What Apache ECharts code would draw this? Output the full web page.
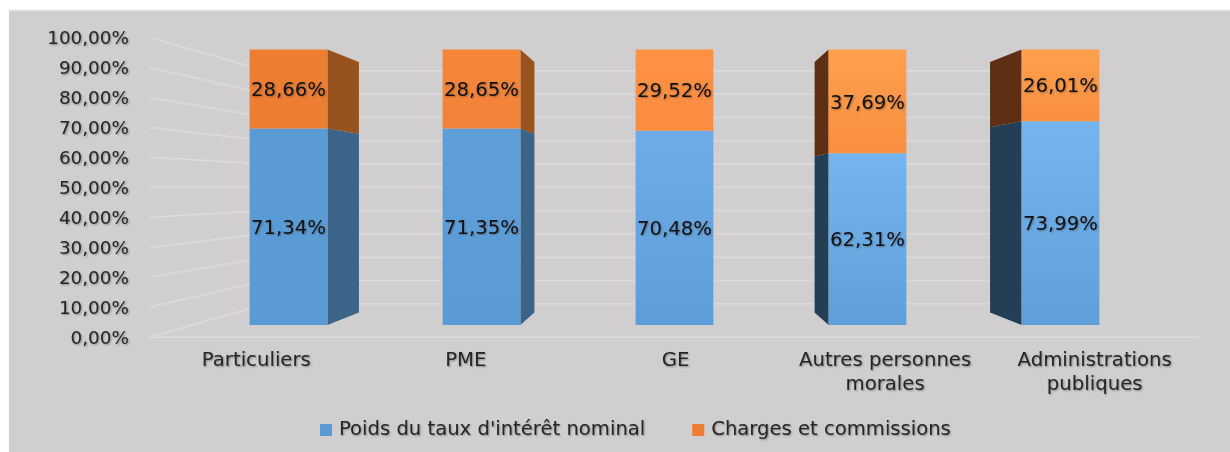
<!DOCTYPE html>
<html>
<head>
<meta charset="utf-8">
<style>html,body{margin:0;padding:0;background:#fff}#c{width:1230px;height:452px}</style>
<script src="https://cdn.jsdelivr.net/npm/echarts@6/dist/echarts.min.js"></script>
</head>
<body>
<div id="c"></div>
<script>
const categories = ['Particuliers', 'PME', 'GE', 'Autres personnes\nmorales', 'Administrations\npubliques'];
const nominal = [71.34, 71.35, 70.48, 62.31, 73.99];
const charges = [28.66, 28.65, 29.52, 37.69, 26.01];
const yTicks = [0, 10, 20, 30, 40, 50, 60, 70, 80, 90, 100];
const seriesNames = ["Poids du taux d'intérêt nominal", 'Charges et commissions'];

const blueTop = ['#5B9BD5', '#5F9FD9', '#6DACE6', '#74B5F0', '#74B5F0'];
const blueBottom = ['#5B9BD5', '#5B9BD5', '#5E9ED8', '#5F9FD9', '#5F9FD9'];
const orangeTop = ['#ED7D31', '#F58638', '#FF9145', '#FFA04F', '#FFA04F'];
const orangeBottom = ['#ED7D31', '#F2823A', '#FB8C3F', '#F98F3F', '#F98F3F'];
const blueSide = ['#3B6489', '#3B6489', '#3B6489', '#243F55', '#243F55'];
const orangeSide = ['#98521E', '#98521E', '#98521E', '#5E2F12', '#5E2F12'];

const BAR_DEPTH = 250 / 275;
const WALL_DEPTH = 233.3 / 300;
const GRID_LINE = '#DAD8D8';
const TEXT = '#262626';
const shadow = { textShadowColor: 'rgba(50,50,50,0.45)', textShadowBlur: 2, textShadowOffsetX: 1, textShadowOffsetY: 1 };
const fmt = v => v.toFixed(2).replace('.', ',') + '%';
const grad = (a, b) => new echarts.graphic.LinearGradient(0, 0, 0, 1, [{ offset: 0, color: a }, { offset: 1, color: b }]);

const sideRows = [];
categories.forEach((_, i) => {
  sideRows.push([i, 0, nominal[i], 0]);
  sideRows.push([i, nominal[i], nominal[i] + charges[i], 1]);
});

function renderSide(params, api) {
  const i = api.value(0), lo = api.value(1), hi = api.value(2), which = api.value(3);
  const half = api.size([1, 0])[0] * 0.2015;
  const cs = params.coordSys;
  const vx = cs.x + cs.width / 2, vy = cs.y + cs.height / 2;
  const c0 = api.coord([i, lo]), c1 = api.coord([i, hi]);
  const back = (x, y) => [vx + (x - vx) * BAR_DEPTH, vy + (y - vy) * BAR_DEPTH];
  const right = c0[0] + half, left = c0[0] - half;
  let edge = null;
  if (back(right, 0)[0] > right) edge = right;
  else if (back(left, 0)[0] < left) edge = left;
  if (edge === null) return null;
  return {
    type: 'polygon',
    z2: 5,
    shape: { points: [[edge, c0[1]], [edge, c1[1]], back(edge, c1[1]), back(edge, c0[1])] },
    style: { fill: (which === 0 ? blueSide : orangeSide)[i] }
  };
}

function renderWall(params, api) {
  const v = api.value(1);
  const cs = params.coordSys;
  const vx = 674, vy = cs.y + cs.height / 2;
  const y = api.coord([0, v])[1];
  const yb = vy + (y - vy) * WALL_DEPTH;
  const xl = vx + (cs.x - vx) * WALL_DEPTH;
  const xr = vx + (cs.x + cs.width - vx) * WALL_DEPTH;
  return {
    type: 'polyline',
    shape: { points: [[cs.x, y], [xl, yb], [xr, yb]] },
    style: { stroke: GRID_LINE, lineWidth: 2, fill: null }
  };
}

const chart = echarts.init(document.getElementById('c'), null, { renderer: 'canvas' });
chart.setOption({
  animation: false,
  backgroundColor: '#fff',
  graphic: [{
    type: 'rect', z: -10, silent: true,
    shape: { x: 9, y: 10, width: 1221, height: 442 },
    style: { fill: '#D0CECE' }
  }, {
    type: 'rect', z: -9, silent: true,
    shape: { x: 9, y: 10, width: 1221, height: 2 },
    style: { fill: '#DAD8D8' }
  }],
  legend: {
    data: seriesNames,
    left: 315,
    top: 415,
    itemWidth: 12,
    itemHeight: 12,
    itemGap: 47,
    icon: 'rect',
    textStyle: Object.assign({ fontFamily: 'DejaVu Sans', fontSize: 19.6, color: TEXT, padding: [0, 0, 0, 2] }, shadow)
  },
  grid: [
    { left: 150, right: 32, top: 37.6, bottom: 115 },
    { left: 192, right: 73, top: 49.5, bottom: 127 },
    { left: 150, right: 32, top: 39.6, bottom: 113 }
  ],
  xAxis: [{
    gridIndex: 0, type: 'category', data: categories,
    axisTick: { show: false },
    axisLine: { lineStyle: { color: GRID_LINE, width: 2 } },
    axisLabel: Object.assign({ fontFamily: 'DejaVu Sans', fontSize: 19.7, color: TEXT, lineHeight: 24, margin: 12, interval: 0, padding: [0, 0, 0, 3] }, shadow)
  }, {
    gridIndex: 1, type: 'category', data: categories, show: false
  }, {
    gridIndex: 2, type: 'category', data: categories, show: false
  }],
  yAxis: [{
    gridIndex: 0, type: 'value', min: 0, max: 100, interval: 10, show: false
  }, {
    gridIndex: 1, type: 'value', min: 0, max: 100, show: false
  }, {
    gridIndex: 2, type: 'value', min: 0, max: 100, interval: 10,
    axisLine: { show: false }, axisTick: { show: false }, splitLine: { show: false },
    axisLabel: Object.assign({ fontFamily: 'DejaVu Sans', fontSize: 18.4, color: TEXT, margin: 21, formatter: fmt }, shadow)
  }],
  series: [{
    type: 'custom', name: 'walls', xAxisIndex: 0, yAxisIndex: 0, z: 1, silent: true, clip: false,
    data: yTicks.map(t => [0, t]),
    encode: { x: 0, y: 1 },
    renderItem: renderWall
  }, {
    type: 'custom', name: 'sides', xAxisIndex: 1, yAxisIndex: 1, z: 2, silent: true, clip: false,
    data: sideRows,
    encode: { x: 0, y: [1, 2] },
    renderItem: renderSide
  }, {
    type: 'bar', name: seriesNames[0], xAxisIndex: 1, yAxisIndex: 1, stack: 'total', z: 3,
    barWidth: '40.3%',
    itemStyle: { color: '#5B9BD5' },
    data: nominal.map((v, i) => ({ value: v, itemStyle: { color: grad(blueTop[i], blueBottom[i]) } })),
    label: Object.assign({ show: true, position: 'inside', offset: [0, 2], fontFamily: 'DejaVu Sans', fontSize: 19.7, color: '#111', formatter: p => fmt(p.value) }, shadow)
  }, {
    type: 'bar', name: seriesNames[1], xAxisIndex: 1, yAxisIndex: 1, stack: 'total', z: 3,
    barWidth: '40.3%',
    itemStyle: { color: '#ED7D31' },
    data: charges.map((v, i) => ({ value: v, itemStyle: { color: grad(orangeTop[i], orangeBottom[i]) } })),
    label: Object.assign({ show: true, position: 'inside', offset: [0, 2], fontFamily: 'DejaVu Sans', fontSize: 19.7, color: '#111', formatter: p => fmt(p.value) }, shadow)
  }]
});
</script>
</body>
</html>
